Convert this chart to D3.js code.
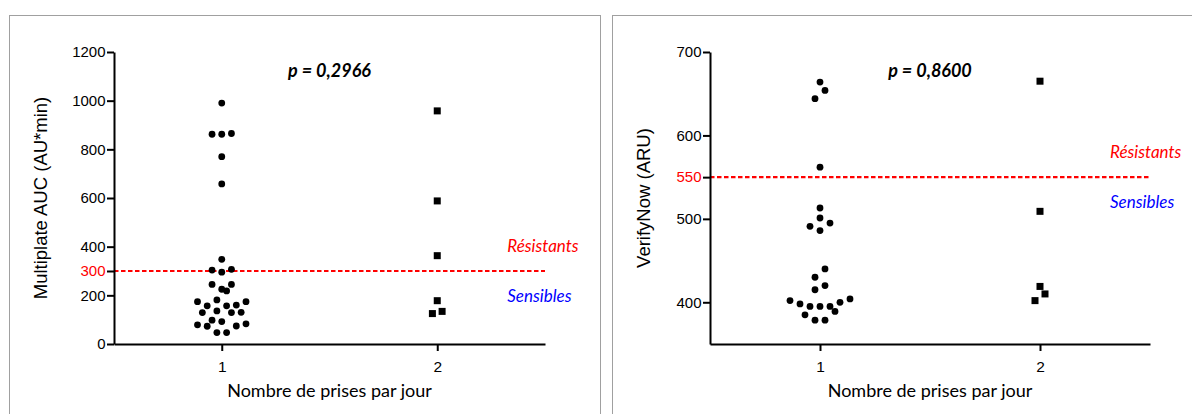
<!DOCTYPE html>
<html>
<head>
<meta charset="utf-8">
<script src="https://cdn.jsdelivr.net/npm/d3@7"></script>
<style>
  body { margin: 0; background: #fff; }
  svg { display: block; }
  .axis text { font-family: "Liberation Sans", Arial, sans-serif; fill: #000; }
  .axis path, .axis line { stroke: #000; stroke-width: 2; }
</style>
</head>
<body>
<div id="chart"></div>
<script>
// values (one dot per patient)
const groups = [1, 2];
const multiplateOnce = [990, 865, 862, 862, 770, 658, 348, 307, 304, 295, 245, 245, 225, 218,
  181, 174, 174, 160, 157, 157, 136, 130, 129, 129, 98, 92, 83, 79, 74, 73, 47, 47];
const multiplateTwice = [958, 588, 363, 178, 134, 125];
const verifyOnce = [664, 654, 644, 562, 513, 501, 495, 491, 486, 440, 430, 420, 415,
  404, 402, 400, 398, 395, 395, 395, 389, 385, 378.5, 378.5];
const verifyTwice = [665, 509, 419, 410, 402];
const multiplateTicks = [0, 200, 400, 600, 800, 1000, 1200];
const verifyTicks = [400, 500, 600, 700];
const multiplateCut = 300;
const verifyCut = 550;
const pValues = ['p = 0,2966', 'p = 0,8600'];
const yTitles = ['Multiplate AUC (AU*min)', 'VerifyNow (ARU)'];
const xTitle = 'Nombre de prises par jour';
const zoneLabels = ['Résistants', 'Sensibles'];

const width = 1192;
const height = 414;
const plotTop = 52;
const plotBottom = 344;

const panels = [
  { frameX: 9.5, left: 114, right: 545, domain: [0, 1200], ticks: multiplateTicks, cut: multiplateCut,
    once: multiplateOnce, twice: multiplateTwice, p: pValues[0], title: yTitles[0], step: 9.7, titleGap: 67 },
  { frameX: 612.5, left: 710, right: 1150, domain: [350, 700], ticks: verifyTicks, cut: verifyCut,
    once: verifyOnce, twice: verifyTwice, p: pValues[1], title: yTitles[1], step: 10, titleGap: 60 },
];

// column scatter like Prism: rows of close values, spread from the centre out
const swarm = (values, y, step, rowHeight) => {
  const sorted = values.slice().sort((a, b) => a - b);
  const out = [];
  let i = 0;
  while (i < sorted.length) {
    const start = y(sorted[i]);
    const row = [];
    while (i < sorted.length && start - y(sorted[i]) < rowHeight) row.push(sorted[i++]);
    const odd = row.length % 2 === 1;
    row.forEach((v, k) => {
      const slot = odd
        ? (k === 0 ? 0 : Math.ceil(k / 2) * (k % 2 ? -1 : 1))
        : (Math.floor(k / 2) + 0.5) * (k % 2 ? 1 : -1);
      out.push({ value: v, dx: slot * step });
    });
  }
  return out;
};

const svg = d3.select('#chart')
  .append('svg')
    .attr('width', width)
    .attr('height', height);

panels.forEach(p => {
  const x = d3.scaleLinear().domain([0.5, 2.5]).range([p.left, p.right]);
  const y = d3.scaleLinear().domain(p.domain).range([plotBottom, plotTop]);
  const mid = (p.left + p.right) / 2;
  const g = svg.append('g');

  // grey frame of the panel
  g.append('rect')
    .attr('x', p.frameX)
    .attr('y', 15.5)
    .attr('width', 591)
    .attr('height', 420)
    .attr('fill', 'none')
    .attr('stroke', '#a0a0a0');

  // threshold line
  g.append('line')
    .attr('x1', p.left)
    .attr('x2', p.right)
    .attr('y1', y(p.cut))
    .attr('y2', y(p.cut))
    .attr('stroke', '#ff0000')
    .attr('stroke-width', 2.2)
    .attr('stroke-dasharray', '4.5,2.5');

  const yAxis = d3.axisLeft(y)
    .tickValues(p.ticks.concat(p.cut))
    .tickFormat(d3.format('d'))
    .tickSize(7)
    .tickSizeOuter(0)
    .tickPadding(1.5);

  const yg = g.append('g')
    .attr('class', 'axis')
    .attr('transform', `translate(${p.left},0)`)
    .call(yAxis);
  yg.selectAll('text')
    .style('font-size', '15px')
    .style('fill', d => d === p.cut ? '#ff0000' : '#000');

  const xAxis = d3.axisBottom(x)
    .tickValues(groups)
    .tickFormat(d3.format('d'))
    .tickSize(7)
    .tickSizeOuter(0)
    .tickPadding(10);

  g.append('g')
    .attr('class', 'axis')
    .attr('transform', `translate(0,${plotBottom})`)
    .call(xAxis)
    .selectAll('text')
      .style('font-size', '15.5px');

  // axis titles
  g.append('text')
    .attr('transform', `translate(${p.left - p.titleGap},${(plotTop + plotBottom) / 2}) rotate(-90)`)
    .attr('text-anchor', 'middle')
    .style('font-family', '"Liberation Sans", Arial, sans-serif')
    .style('font-size', '18.5px')
    .text(p.title);

  g.append('text')
    .attr('x', mid)
    .attr('y', 397)
    .attr('text-anchor', 'middle')
    .style('font-family', 'Lato, sans-serif')
    .style('font-size', '18px')
    .text(xTitle);

  g.append('text')
    .attr('x', mid)
    .attr('y', 77)
    .attr('text-anchor', 'middle')
    .style('font-family', 'Lato, sans-serif')
    .style('font-size', '18px')
    .style('font-weight', 'bold')
    .style('font-style', 'italic')
    .text(p.p);

  // zone labels either side of the cut-off
  g.selectAll('.zone')
    .data(zoneLabels)
    .enter().append('text')
      .attr('class', 'zone')
      .attr('x', x(2) + 70)
      .attr('y', (d, i) => y(p.cut) + (i ? 30.5 : -19))
      .style('font-family', 'Lato, sans-serif')
      .style('font-size', '17px')
      .style('font-style', 'italic')
      .style('fill', (d, i) => i ? '#0000ff' : '#ff0000')
      .text(d => d);

  // once a day: round dots
  g.selectAll('.dot')
    .data(swarm(p.once, y, p.step, 9.5))
    .enter().append('circle')
      .attr('class', 'dot')
      .attr('cx', d => x(1) + d.dx)
      .attr('cy', d => y(d.value))
      .attr('r', 3.4)
      .attr('fill', '#000');

  // twice a day: squares
  const side = 7;
  g.selectAll('.sq')
    .data(swarm(p.twice, y, p.step, 9.5))
    .enter().append('rect')
      .attr('class', 'sq')
      .attr('x', d => x(2) + d.dx - side / 2)
      .attr('y', d => y(d.value) - side / 2)
      .attr('width', side)
      .attr('height', side)
      .attr('fill', '#000');
});
</script>
</body>
</html>
